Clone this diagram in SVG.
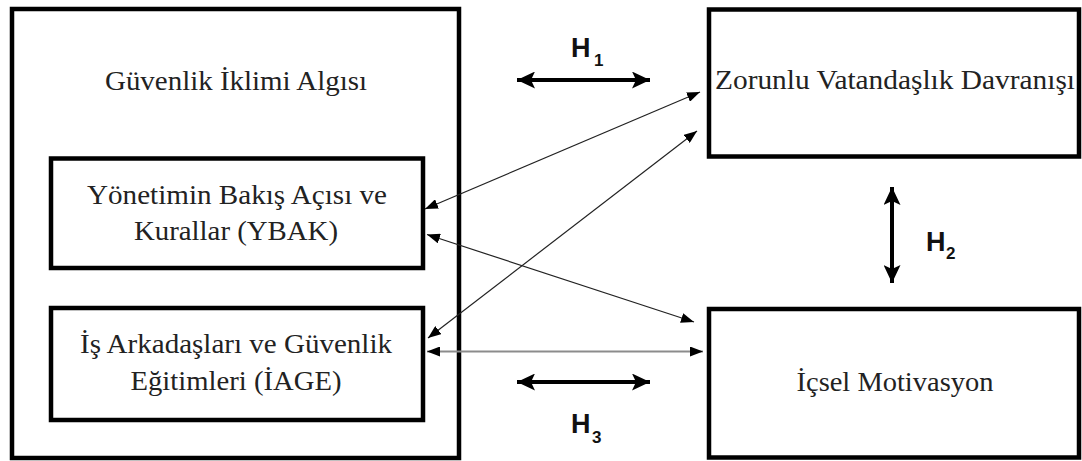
<svg xmlns="http://www.w3.org/2000/svg" width="1082" height="461" viewBox="0 0 1082 461">
  <style>
    .box { fill: none; stroke: #000; stroke-width: 4.5; }
    .lbl { font-family: "Liberation Serif", "Times New Roman", serif; font-size: 27px; fill: #222; text-anchor: middle; }
    .hyp { font-family: "Liberation Sans", Arial, sans-serif; font-weight: bold; fill: #111; }
    .thin { fill: none; stroke: #222; stroke-width: 1.2; }
    .thin-grey { fill: none; stroke: #8c8c8c; stroke-width: 2; }
    .thick { fill: none; stroke: #000; stroke-width: 4; }
  </style>
  <defs>
    <marker id="head-thin" markerUnits="userSpaceOnUse" viewBox="0 0 13 10" refX="13" refY="5" markerWidth="13" markerHeight="10" orient="auto-start-reverse">
      <path d="M0,0 L13,5 L0,10 Z" fill="#000"/>
    </marker>
    <marker id="head-thick" markerUnits="userSpaceOnUse" viewBox="0 0 18 17" refX="18" refY="8.5" markerWidth="18" markerHeight="17" orient="auto-start-reverse">
      <path d="M0,0 L18,8.5 L0,17 L4,8.5 Z" fill="#000"/>
    </marker>
  </defs>

  <rect width="1082" height="461" fill="#fff"/>

  <!-- Safety climate perception (container) -->
  <g id="guvenlik-iklimi">
    <rect class="box" x="12" y="9" width="447" height="449"/>
    <text class="lbl" x="236" y="90" textLength="262" lengthAdjust="spacingAndGlyphs">Güvenlik İklimi Algısı</text>
  </g>

  <g id="ybak">
    <rect class="box" x="51" y="158.5" width="372" height="109.5"/>
    <text class="lbl" x="237" y="204" textLength="300" lengthAdjust="spacingAndGlyphs">Yönetimin Bakış Açısı ve</text>
    <text class="lbl" x="236" y="240" textLength="204" lengthAdjust="spacingAndGlyphs">Kurallar (YBAK)</text>
  </g>

  <g id="iage">
    <rect class="box" x="51" y="308" width="372" height="112"/>
    <text class="lbl" x="236" y="353" textLength="312" lengthAdjust="spacingAndGlyphs">İş Arkadaşları ve Güvenlik</text>
    <text class="lbl" x="236" y="390" textLength="211" lengthAdjust="spacingAndGlyphs">Eğitimleri (İAGE)</text>
  </g>

  <g id="zorunlu-vatandaslik">
    <rect class="box" x="709" y="9.5" width="370" height="147"/>
    <text class="lbl" x="895" y="89" textLength="360" lengthAdjust="spacingAndGlyphs">Zorunlu Vatandaşlık Davranışı</text>
  </g>

  <g id="icsel-motivasyon">
    <rect class="box" x="709" y="309" width="370" height="148.5"/>
    <text class="lbl" x="895" y="391" textLength="197" lengthAdjust="spacingAndGlyphs">İçsel Motivasyon</text>
  </g>

  <!-- Connectors -->
  <g id="connectors">
    <line class="thin" x1="425" y1="209" x2="700" y2="92" marker-start="url(#head-thin)" marker-end="url(#head-thin)"/>
    <line class="thin" x1="428" y1="338" x2="697" y2="131" marker-start="url(#head-thin)" marker-end="url(#head-thin)"/>
    <line class="thin" x1="427" y1="234.5" x2="694" y2="322" marker-start="url(#head-thin)" marker-end="url(#head-thin)"/>
    <line class="thin-grey" x1="427" y1="351.5" x2="703" y2="351.5" marker-start="url(#head-thin)" marker-end="url(#head-thin)"/>

    <line class="thick" x1="517" y1="80" x2="650" y2="80" marker-start="url(#head-thick)" marker-end="url(#head-thick)"/>
    <line class="thick" x1="892" y1="187" x2="892" y2="283" marker-start="url(#head-thick)" marker-end="url(#head-thick)"/>
    <line class="thick" x1="517" y1="382" x2="650" y2="382" marker-start="url(#head-thick)" marker-end="url(#head-thick)"/>
  </g>

  <!-- Hypothesis labels -->
  <g id="h1">
    <text class="hyp" x="571" y="57" font-size="27">H</text>
    <text class="hyp" x="594" y="66" font-size="17">1</text>
  </g>
  <g id="h2">
    <text class="hyp" x="926" y="251" font-size="27">H</text>
    <text class="hyp" x="946" y="259" font-size="17">2</text>
  </g>
  <g id="h3">
    <text class="hyp" x="571" y="433" font-size="27">H</text>
    <text class="hyp" x="592" y="443" font-size="17">3</text>
  </g>
</svg>
